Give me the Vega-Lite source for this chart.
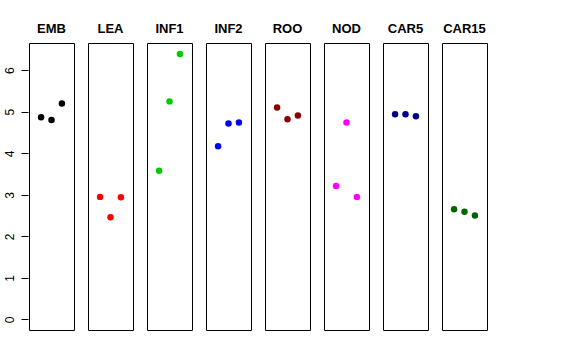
{
  "$schema": "https://vega.github.io/schema/vega-lite/v6.json",
  "background": "white",
  "padding": {"left": 3, "top": 23, "right": 5, "bottom": 5},
  "data": {"values": [
    {"g": "EMB", "i": 1, "v": 4.87}, {"g": "EMB", "i": 2, "v": 4.80}, {"g": "EMB", "i": 3, "v": 5.20},
    {"g": "LEA", "i": 1, "v": 2.95}, {"g": "LEA", "i": 2, "v": 2.46}, {"g": "LEA", "i": 3, "v": 2.94},
    {"g": "INF1", "i": 1, "v": 3.58}, {"g": "INF1", "i": 2, "v": 5.25}, {"g": "INF1", "i": 3, "v": 6.39},
    {"g": "INF2", "i": 1, "v": 4.17}, {"g": "INF2", "i": 2, "v": 4.72}, {"g": "INF2", "i": 3, "v": 4.74},
    {"g": "ROO", "i": 1, "v": 5.10}, {"g": "ROO", "i": 2, "v": 4.82}, {"g": "ROO", "i": 3, "v": 4.91},
    {"g": "NOD", "i": 1, "v": 3.21}, {"g": "NOD", "i": 2, "v": 4.74}, {"g": "NOD", "i": 3, "v": 2.95},
    {"g": "CAR5", "i": 1, "v": 4.94}, {"g": "CAR5", "i": 2, "v": 4.94}, {"g": "CAR5", "i": 3, "v": 4.89},
    {"g": "CAR15", "i": 1, "v": 2.65}, {"g": "CAR15", "i": 2, "v": 2.59}, {"g": "CAR15", "i": 3, "v": 2.50}
  ]},
  "facet": {
    "column": {
      "field": "g",
      "type": "nominal",
      "sort": ["EMB", "LEA", "INF1", "INF2", "ROO", "NOD", "CAR5", "CAR15"],
      "title": null,
      "header": {"labelFont": "Liberation Sans", "labelFontWeight": "bold", "labelFontSize": 13, "labelColor": "black", "labelPadding": 6}
    }
  },
  "spacing": 12,
  "spec": {
    "width": 45,
    "height": 287,
    "mark": {"type": "point", "filled": true, "size": 42, "opacity": 1},
    "encoding": {
      "x": {"field": "i", "type": "quantitative", "scale": {"domain": [-0.16, 4.16], "nice": false, "zero": false}, "axis": null},
      "y": {"field": "v", "type": "quantitative", "scale": {"domain": [-0.256, 6.656], "nice": false, "zero": false},
        "axis": {"title": null, "values": [0, 1, 2, 3, 4, 5, 6], "grid": false, "domain": false, "tickColor": "black", "tickSize": 7, "labelAngle": -90, "labelAlign": "center", "labelBaseline": "bottom", "labelFont": "Liberation Sans", "labelFontSize": 12, "labelColor": "black", "labelPadding": 5}},
      "color": {"field": "g", "type": "nominal", "legend": null,
        "scale": {"domain": ["EMB", "LEA", "INF1", "INF2", "ROO", "NOD", "CAR5", "CAR15"],
          "range": ["#000000", "#FF0000", "#00CD00", "#0000FF", "#8B0000", "#FF00FF", "#00008B", "#006400"]}}
    }
  },
  "config": {"view": {"stroke": "black", "strokeWidth": 1}}
}
